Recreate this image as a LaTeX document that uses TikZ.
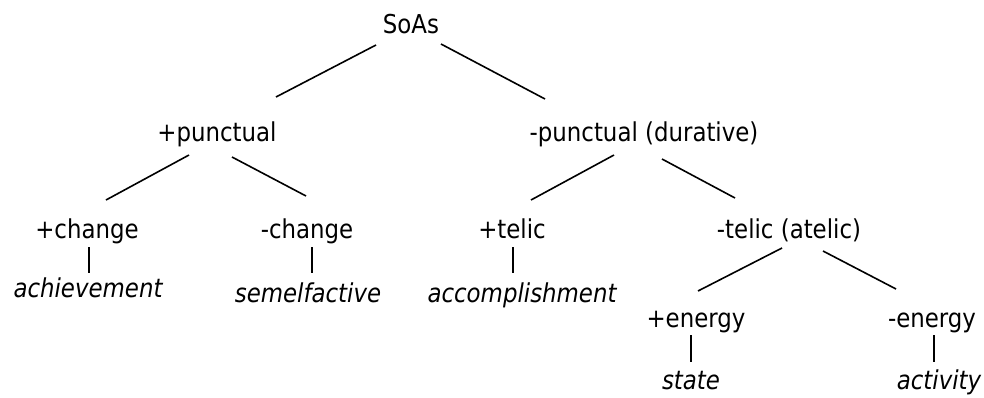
\documentclass[tikz,border=0pt]{standalone}
\usepackage{fontspec}
\setmainfont{DejaVu Sans}[FakeStretch=0.88]
\usetikzlibrary{calc}
\begin{document}
\begin{tikzpicture}[x=1pt,y=-1pt,
  lbl/.style={inner sep=0pt,anchor=base,font=\fontsize{26}{30}\selectfont},
  leaf/.style={lbl,font=\fontsize{26}{30}\selectfont\itshape},
  edge/.style={line width=1.6pt}]
\useasboundingbox (0,0) rectangle (984,397);
\node[lbl] (soas) at (411,33) {SoAs};
\node[lbl] (punc) at (217,141) {+punctual};
\node[lbl] (npunc) at (644,141) {-punctual (durative)};
\node[lbl] (chg) at (87,238) {+change};
\node[lbl] (nchg) at (307,238) {-change};
\node[lbl] (telic) at (512,238) {+telic};
\node[lbl] (ntelic) at (789,238) {-telic (atelic)};
\node[leaf] (ach) at (88,297) {achievement};
\node[leaf] (sem) at (308,302) {semelfactive};
\node[leaf] (acc) at (522,302) {accomplishment};
\node[lbl] (pen) at (696,327) {+energy};
\node[lbl] (nen) at (932,327) {-energy};
\node[leaf] (state) at (691,389) {state};
\node[leaf] (act) at (939,389) {activity};
% diagonals
\draw[edge] ($(soas.base)+(-35,12)$) -- ($(punc.base)+(59,-44)$);
\draw[edge] ($(soas.base)+(30,11)$) -- ($(npunc.base)+(-99,-42)$);
\draw[edge] ($(punc.base)+(-28,14)$) -- ($(chg.base)+(19,-38)$);
\draw[edge] ($(punc.base)+(15,16)$) -- ($(nchg.base)+(-1,-42)$);
\draw[edge] ($(npunc.base)+(-30,14)$) -- ($(telic.base)+(19,-38)$);
\draw[edge] ($(npunc.base)+(18,18)$) -- ($(ntelic.base)+(-54,-40)$);
\draw[edge] ($(ntelic.base)+(-7,10)$) -- ($(pen.base)+(2,-36)$);
\draw[edge] ($(ntelic.base)+(34,13)$) -- ($(nen.base)+(-36,-38)$);
% verticals
\draw[edge] ($(chg.base)+(2,9)$) -- ($(ach.base)+(1,-24)$);
\draw[edge] ($(nchg.base)+(5,9)$) -- ($(sem.base)+(4,-29)$);
\draw[edge] ($(telic.base)+(1,9)$) -- ($(acc.base)+(-9,-29)$);
\draw[edge] ($(pen.base)+(-5,8)$) -- ($(state.base)+(0,-27)$);
\draw[edge] ($(nen.base)+(2,8)$) -- ($(act.base)+(-5,-27)$);
\end{tikzpicture}
\end{document}
